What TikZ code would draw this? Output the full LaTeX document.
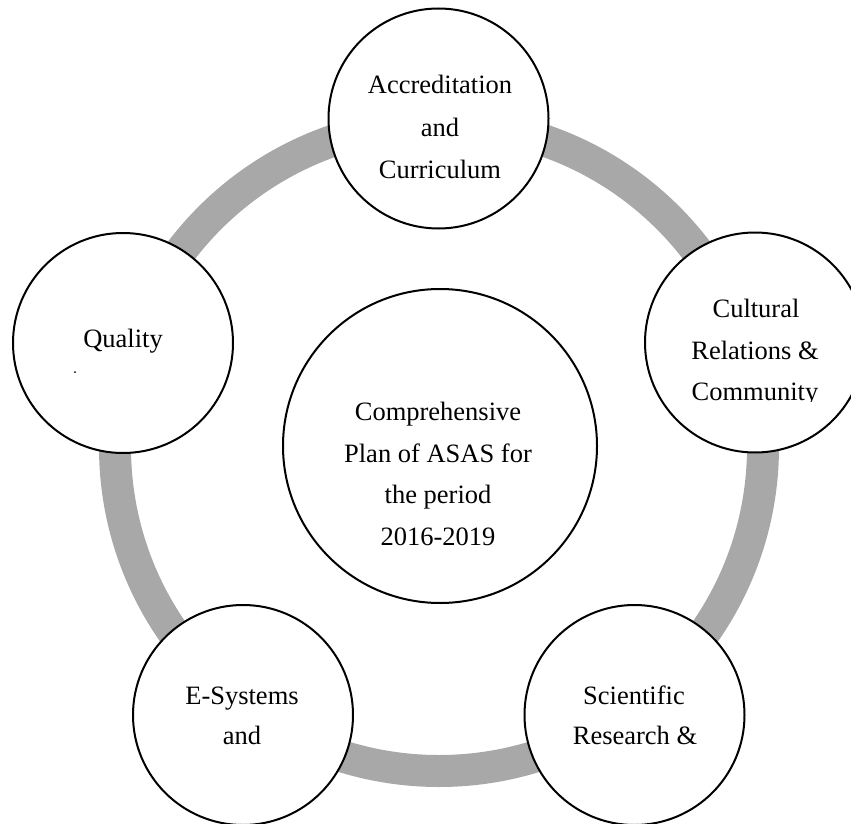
\documentclass[tikz,border=0pt]{standalone}
\usepackage{fontspec}
\setmainfont{Liberation Serif}
\definecolor{ringgray}{RGB}{168,168,168}
\begin{document}
\begin{tikzpicture}[x=1pt,y=-1pt,
  ringline/.style={draw=ringgray,line width=32pt},
  topic/.style={circle,draw=black,fill=white,line width=2pt,minimum size=220pt,inner sep=0pt},
  hub/.style={circle,draw=black,fill=white,line width=2pt,minimum size=314pt,inner sep=0pt},
  lbl/.style={anchor=base,inner sep=0pt,font=\fontsize{26.5}{32}\selectfont}]
\useasboundingbox (0,0) rectangle (851,824);
\clip (0,0) rectangle (851,824);
\coordinate (ringc) at (439,447);
\draw[ringline] (ringc) circle[radius=324];
\node[hub] (hubc) at (440,446) {};
\node[topic] (acc) at (438.5,118.5) {};
\node[topic] (qual) at (123,343) {};
\node[topic] (cult) at (755,342.5) {};
\node[topic] (esys) at (243,715) {};
\node[topic] (sci) at (634.5,715) {};
% hub text
\node[lbl] (h1) at (438,420) {Comprehensive};
\node[lbl] (h2) at (438,462) {Plan of ASAS for};
\node[lbl] (h3) at (438,503) {the period};
\node[lbl] (h4) at (438,545) {2016-2019};
% top
\node[lbl] (a1) at (440,94) {Accreditation};
\node[lbl] (a2) at (440,137) {and};
\node[lbl] (a3) at (440,178) {Curriculum};
% quality
\node[lbl] (q1) at (123,347) {Quality};
\node[circle,fill=black,inner sep=0pt,minimum size=2pt] (qdot) at (75,372) {};
% cultural
\node[lbl] (c1) at (756,317) {Cultural};
\node[lbl] (c2) at (755,359) {Relations \&};
\begin{scope}
\clip (600,370) rectangle (851,401);
\node[lbl] (c3) at (755,400) {Community};
\end{scope}
% e-systems
\node[lbl] (e1) at (242,704) {E-Systems};
\node[lbl] (e2) at (242,744) {and};
% scientific
\node[lbl] (s1) at (634,704) {Scientific};
\node[lbl] (s2) at (635,744) {Research \&};
\end{tikzpicture}
\end{document}
